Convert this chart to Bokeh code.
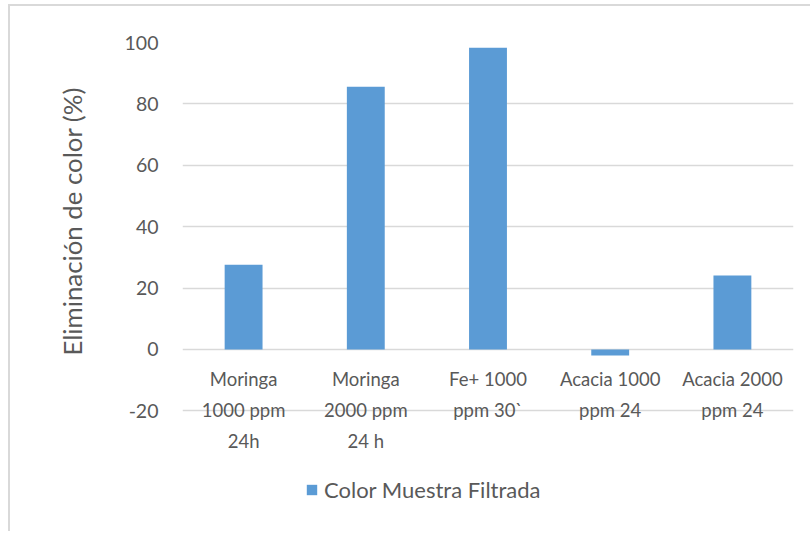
from bokeh.plotting import figure
from bokeh.models import (FactorRange, Range1d, FixedTicker, Legend, LegendItem,
                          Title, ColumnDataSource)
from bokeh.core.properties import value
from bokeh.embed import file_html
from bokeh.resources import INLINE

categories = ["Moringa 1000 ppm 24h", "Moringa 2000 ppm 24 h",
              "Fe+ 1000 ppm 30`", "Acacia 1000 ppm 24", "Acacia 2000 ppm 24"]
category_labels = ["Moringa\n1000 ppm\n24h", "Moringa\n2000 ppm\n24 h",
                   "Fe+ 1000\nppm 30`", "Acacia 1000\nppm 24", "Acacia 2000\nppm 24"]
values = [27.6, 85.6, 98.3, -2.0, 24.1]
series_name = "Color Muestra Filtrada"
y_ticks = [-20, 0, 20, 40, 60, 80, 100]
y_title = "Eliminación de color (%)"

FONT = "Lato"
TXT = "#595959"
GRID = "#D9D9D9"
BAR = "#5B9BD5"

p = figure(width=802, height=527, output_backend="svg", toolbar_location=None,
           x_range=FactorRange(*categories), y_range=Range1d(-60, 100),
           x_axis_location=None,
           min_border_left=172, min_border_right=19, min_border_top=36,
           min_border_bottom=0, margin=(6, 0, 0, 10),
           styles={"box-shadow": "-2px -2px 0 0 #D9D9D9"})
p.outline_line_color = None
p.background_fill_color = "white"
p.border_fill_color = "white"

r = p.vbar(x=categories, top=values, width=0.31, fill_color=BAR, line_color=None)

src = ColumnDataSource(dict(x=categories, y=[0] * len(categories), t=category_labels))
p.text(x="x", y="y", text="t", source=src, y_offset=19, text_align="center",
       text_baseline="top", text_font=value(FONT), text_font_size="18.5px",
       text_color=TXT, text_line_height=1.39)

ticker = FixedTicker(ticks=y_ticks)
p.yaxis.ticker = ticker
p.ygrid.ticker = ticker
p.ygrid.grid_line_color = GRID
p.ygrid.grid_line_width = 1.5
p.xgrid.grid_line_color = None
p.yaxis.axis_line_color = None
p.yaxis.major_tick_line_color = None
p.yaxis.minor_tick_line_color = None
p.yaxis.major_label_text_font = FONT
p.yaxis.major_label_text_font_size = "19.5px"
p.yaxis.major_label_text_color = TXT
p.yaxis.major_label_standoff = 18
p.yaxis.major_label_overrides = {-20: "-20"}

title = Title(text=y_title, align="left", offset=178, standoff=70,
              text_font=FONT, text_font_size="25.8px", text_font_style="normal",
              text_color=TXT)
p.add_layout(title, "left")

legend = Legend(items=[LegendItem(label=series_name, renderers=[r])],
                location=(123, 30), orientation="horizontal",
                glyph_width=13, glyph_height=13, label_standoff=6,
                padding=0, margin=0, border_line_color=None,
                background_fill_alpha=0,
                label_text_font=FONT, label_text_font_size="22px",
                label_text_color=TXT)
p.add_layout(legend, "center")

open("out.html", "w").write(file_html(p, INLINE))
